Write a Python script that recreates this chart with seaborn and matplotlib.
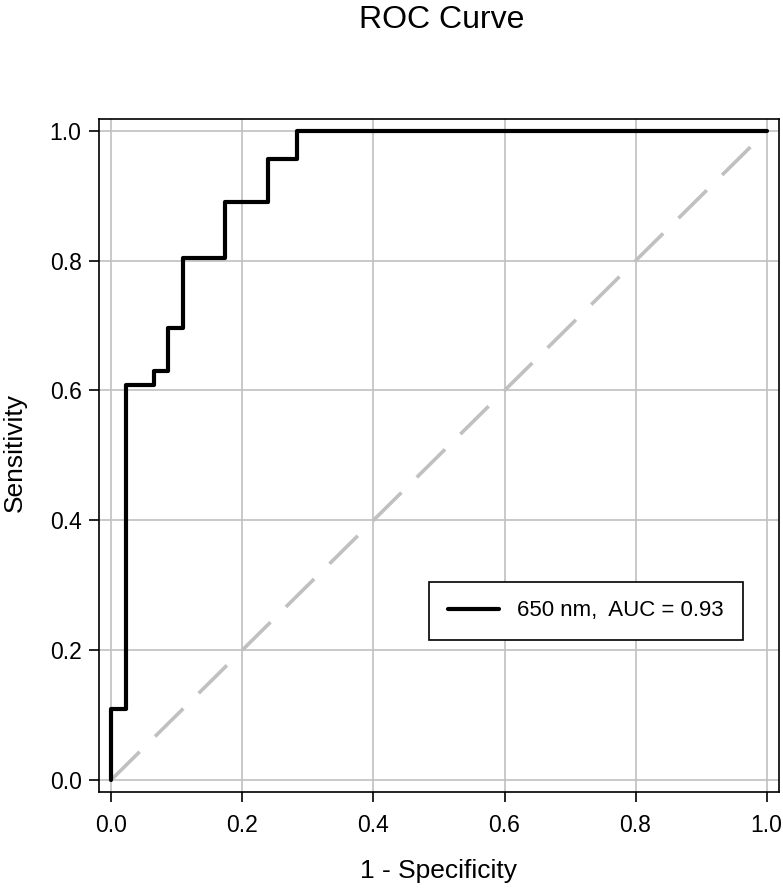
import pandas as pd
import seaborn as sns
import matplotlib.pyplot as plt

sns.set_style('ticks')
plt.rcParams['font.family'] = ['Liberation Sans', 'DejaVu Sans']
plt.rcParams['text.color'] = 'black'
plt.rcParams['axes.labelcolor'] = 'black'

# corner points of the ROC step curve
fpr = [0.0, 0.0, 0.022, 0.022, 0.065, 0.065, 0.087, 0.087, 0.109, 0.109,
       0.174, 0.174, 0.239, 0.239, 0.283, 0.283, 1.0]
tpr = [0.0, 0.109, 0.109, 0.609, 0.609, 0.630, 0.630, 0.696, 0.696, 0.804,
       0.804, 0.891, 0.891, 0.957, 0.957, 1.0, 1.0]
curve_label = "650 nm,  AUC = 0.93"

chance = [0.0, 1.0]
ticks = [0.0, 0.2, 0.4, 0.6, 0.8, 1.0]
tick_labels = ["0.0", "0.2", "0.4", "0.6", "0.8", "1.0"]

roc = pd.DataFrame({"fpr": fpr, "tpr": tpr})

fig = plt.figure(figsize=(7.83, 8.89), dpi=100)
ax = fig.add_axes([0.1264, 0.1091, 0.8685, 0.757])

for t in ticks:
    ax.axvline(t, color='#c0c0c0', lw=1.2, zorder=1)
    ax.axhline(t, color='#c0c0c0', lw=1.2, zorder=1)

ax.plot(chance, chance, color='#c0c0c0', lw=2.6, dashes=(11, 6), zorder=2)
sns.lineplot(data=roc, x="fpr", y="tpr", sort=False, estimator=None,
             color='black', lw=3.0, label=curve_label, ax=ax, zorder=3)

ax.set_xlim(-0.019, 1.019)
ax.set_ylim(-0.019, 1.0185)
ax.set_xticks(ticks)
ax.set_xticklabels(tick_labels)
ax.set_yticks(ticks)
ax.set_yticklabels(tick_labels)
ax.tick_params(axis='both', direction='out', length=7.5, width=1.2,
               colors='black', labelsize=16.5)
ax.tick_params(axis='x', pad=8)
ax.tick_params(axis='y', pad=5)
for s in ax.spines.values():
    s.set_color('black')
    s.set_linewidth(1.2)

ax.set_xlabel("1 - Specificity", fontsize=19, labelpad=16)
ax.set_ylabel("Sensitivity", fontsize=19)
ax.yaxis.set_label_coords(-0.106, 0.504)
fig.suptitle("ROC Curve", fontsize=23, x=0.564, y=0.994, va='top')

leg = ax.legend(loc='center', bbox_to_anchor=(0.716, 0.269), fontsize=16,
                frameon=True, fancybox=False, handlelength=2.3,
                borderpad=0.85, borderaxespad=0)
leg.get_frame().set_edgecolor('black')
leg.get_frame().set_linewidth(1.2)
leg.get_frame().set_alpha(1)

fig.savefig('out.png', dpi=100)
